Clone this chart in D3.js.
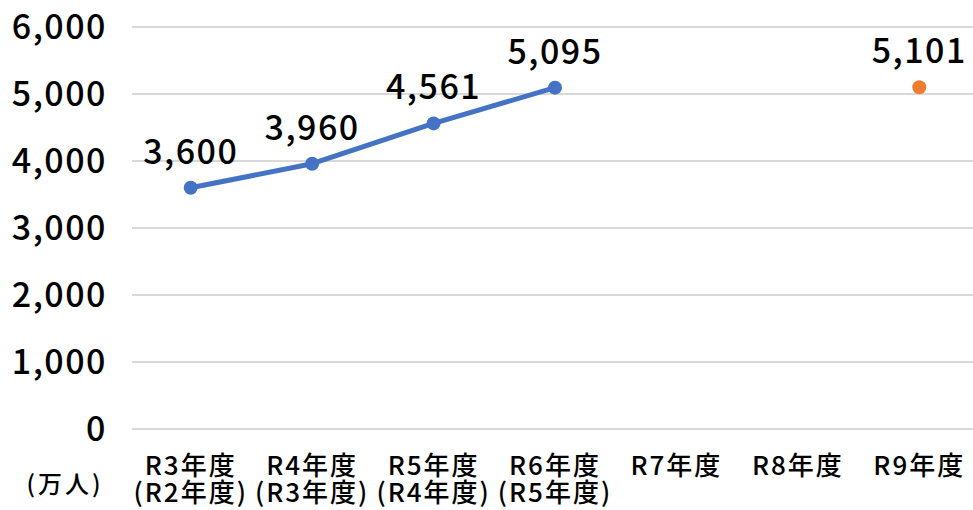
<!DOCTYPE html>
<html lang="ja">
<head>
<meta charset="UTF-8">
<title>chart</title>
<script src="https://d3js.org/d3.v7.min.js"></script>
<style>
  body { margin: 0; background: #fff; }
  text { font-family: "Noto Sans CJK JP", "Noto Sans", sans-serif; fill: #000; font-weight: 500; }
</style>
</head>
<body>
<script>
// data
var categories = ["R3年度", "R4年度", "R5年度", "R6年度", "R7年度", "R8年度", "R9年度"];
var subLabels = ["(R2年度)", "(R3年度)", "(R4年度)", "(R5年度)", "", "", ""];
var actualValues = [3600, 3960, 4561, 5095, null, null, null];
var targetValues = [null, null, null, null, null, null, 5101];
var yTicks = [0, 1000, 2000, 3000, 4000, 5000, 6000];
var unitLabel = "(万人)";

var width = 973, height = 510;
var svg = d3.select("body").append("svg")
    .attr("width", width)
    .attr("height", height);

var x = d3.scaleBand().domain(categories).range([130, 980]);
var y = d3.scaleLinear().domain([0, 6000]).range([429, 27]);
var fmt = d3.format(",");

// grid
svg.append("g").selectAll("line")
    .data(yTicks)
    .enter().append("line")
    .attr("x1", 132).attr("x2", width)
    .attr("y1", d => y(d)).attr("y2", d => y(d))
    .attr("stroke", "#d9d9d9")
    .attr("stroke-width", 2);

// y axis labels
svg.append("g").selectAll("text")
    .data(yTicks)
    .enter().append("text")
    .attr("x", 107)
    .attr("y", d => y(d) + 12)
    .attr("text-anchor", "end")
    .attr("font-size", 34)
    .attr("letter-spacing", 1.5)
    .text(d => fmt(d));

// x labels (two lines in one text)
var cx = d => x(d) + x.bandwidth() / 2;
var xl = svg.append("g").selectAll("text")
    .data(categories.map((c, i) => [c, subLabels[i]]))
    .enter().append("text")
    .attr("text-anchor", "middle")
    .attr("font-size", 26)
    .attr("letter-spacing", 2);
xl.append("tspan")
    .attr("x", d => cx(d[0]))
    .attr("y", 475)
    .text(d => d[0]);
xl.filter(d => d[1] !== "").append("tspan")
    .attr("x", d => cx(d[0]))
    .attr("y", 502)
    .text(d => d[1]);

svg.append("text")
    .attr("x", 65)
    .attr("y", 493)
    .attr("text-anchor", "middle")
    .attr("font-size", 24)
    .attr("font-weight", 400)
    .attr("letter-spacing", 3)
    .text(unitLabel);

// actual line
var actual = categories.map((c, i) => ({c: c, v: actualValues[i]})).filter(d => d.v != null);
var line = d3.line().x(d => cx(d.c)).y(d => y(d.v));
svg.append("path")
    .datum(actual)
    .attr("d", line)
    .attr("fill", "none")
    .attr("stroke", "#4472C4")
    .attr("stroke-width", 5)
    .attr("stroke-linejoin", "round");

svg.append("g").selectAll("circle")
    .data(actual)
    .enter().append("circle")
    .attr("cx", d => cx(d.c))
    .attr("cy", d => y(d.v))
    .attr("r", 7)
    .attr("fill", "#4472C4");

var target = categories.map((c, i) => ({c: c, v: targetValues[i]})).filter(d => d.v != null);
svg.append("g").selectAll("circle")
    .data(target)
    .enter().append("circle")
    .attr("cx", d => cx(d.c))
    .attr("cy", d => y(d.v))
    .attr("r", 7)
    .attr("fill", "#ED7D31");

// data labels
svg.append("g").selectAll("text")
    .data(actual.concat(target))
    .enter().append("text")
    .attr("x", d => cx(d.c))
    .attr("y", d => y(d.v) - 24)
    .attr("text-anchor", "middle")
    .attr("font-size", 34)
    .attr("letter-spacing", 1.5)
    .text(d => fmt(d.v));
</script>
</body>
</html>
